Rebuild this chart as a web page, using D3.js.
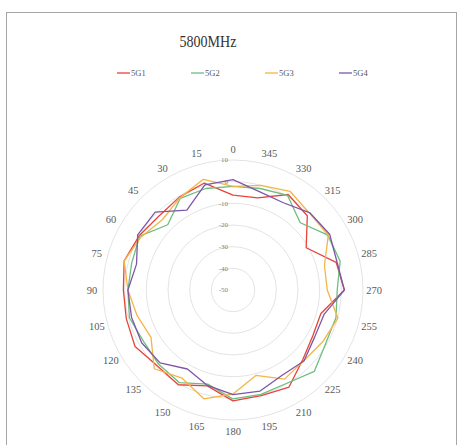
<!DOCTYPE html>
<html><head><meta charset="utf-8">
<script src="https://cdn.jsdelivr.net/npm/d3@7"></script>
<style>html,body{margin:0;padding:0;background:#fff;}svg{display:block;}</style>
</head><body>
<svg id="c" width="459" height="445"></svg>
<script>
const angles = [0,15,30,45,60,75,90,105,120,135,150,165,180,195,210,225,240,255,270,285,300,315,330,345];
const seriesNames = ["5G1","5G2","5G3","5G4"];
const s5G1 = [-6.2,1.1,-0.5,-1.7,0,2,0.6,1.0,2.2,-0.5,0.5,-4.2,1.2,0.5,1.7,-4.5,-7.5,-8,1.4,-0.7,-11,-1.5,0.9,-6];
const s5G2 = [-2.2,-1.5,-1.2,-7.4,-0.3,-1.6,-1.5,-0.5,-2.4,-1.5,-0.6,-5,0.3,-0.1,-0.3,3.1,-0.6,-0.8,-1.9,1.2,0.6,-6.1,0.4,-1.5];
const s5G3 = [-2.2,2.9,-0.9,-4,-1,2,-1.5,-4.2,-6.3,1.4,-3,2,-2,-9.2,-2.5,-3.8,-2.2,0.1,-6.5,-6.3,0.8,0,2.6,0];
const s5G4 = [0.9,0.2,-7.4,0.8,0.8,-3.9,-1.5,-1.5,-1.3,-2.4,-7.9,-4.4,-1.7,-1.7,-4.6,-3.7,-6.5,-6.5,1.4,-0.3,1.5,0.3,-3.5,-3];
const radialTicks = [10,0,-10,-20,-30,-40,-50];
const title = "5800MHz";
const colors = ["#e8433b","#6cbf7e","#f5b544","#7e56a8"];

const svg = d3.select("#c");
svg.append("rect").attr("x",6.5).attr("y",12.5).attr("width",450).attr("height",440)
  .attr("fill","#fff").attr("stroke","#a6a6a6").attr("stroke-width",1);

svg.append("text").attr("x",208).attr("y",47).attr("text-anchor","middle")
  .attr("font-family","Liberation Serif, serif").attr("font-size",17).attr("fill","#333")
  .attr("textLength",57).attr("lengthAdjust","spacingAndGlyphs").text(title);

const cx = 233, cy = 290;
const r = d3.scaleLinear().domain([-50,10]).range([0,130]);
const ang = d3.scaleLinear().domain([0,360]).range([0,-2*Math.PI]);

const g = svg.append("g").attr("transform",`translate(${cx},${cy})`);

// grid rings
g.selectAll("circle.ring").data(radialTicks.filter(d=>d>-50)).join("circle")
  .attr("class","ring").attr("r",d=>r(d)).attr("fill","none")
  .attr("stroke","#dcdcdc").attr("stroke-width",0.8);

// radial tick labels
g.selectAll("text.rt").data(radialTicks).join("text").attr("class","rt")
  .attr("x",-5).attr("y",d=>-r(d)).attr("dy","0.35em").attr("text-anchor","end")
  .attr("font-family","Liberation Serif, serif").attr("font-size",7).attr("fill","#7f7f7f")
  .text(d=>d);

// angle labels
g.selectAll("text.al").data(angles).join("text").attr("class","al")
  .attr("x",d=>Math.sin(-ang(d)) * -141)
  .attr("y",d=>-Math.cos(ang(d))*141)
  .attr("dy","0.35em").attr("text-anchor","middle")
  .attr("font-family","Liberation Serif, serif").attr("font-size",10.5).attr("fill","#595959")
  .text(d=>d);

const allSeries = [s5G1,s5G2,s5G3,s5G4];
const line = d3.lineRadial().angle((d,i)=>ang(angles[i])).radius(d=>r(d)).curve(d3.curveLinearClosed);
allSeries.forEach((s,k)=>{
  g.append("path").attr("d",line(s)).attr("fill","none").attr("stroke",colors[k])
    .attr("stroke-width",1.3).attr("stroke-linejoin","round");
});

// legend
const leg = svg.append("g");
seriesNames.forEach((n,k)=>{
  const x0 = 117 + k*74;
  leg.append("line").attr("x1",x0).attr("x2",x0+13).attr("y1",73).attr("y2",73)
    .attr("stroke",colors[k]).attr("stroke-width",1.3);
  leg.append("text").attr("x",x0+14).attr("y",73).attr("dy","0.35em")
    .attr("font-family","Liberation Serif, serif").attr("font-size",8.5).attr("fill","#595959").text(n);
});
</script>
</body></html>
